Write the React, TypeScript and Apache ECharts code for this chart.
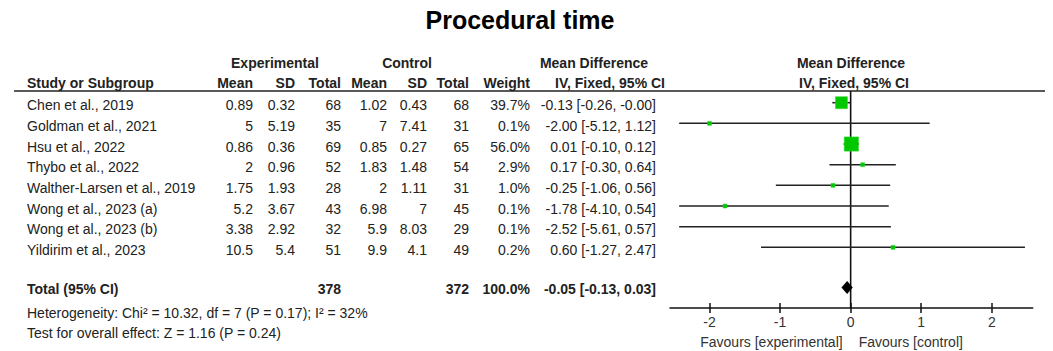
import React, { useEffect, useRef } from "react";
import * as echarts from "echarts";

// ---------------- data ----------------
const chartTitle = "Procedural time";
const studies = [
  "Chen et al., 2019",
  "Goldman et al., 2021",
  "Hsu et al., 2022",
  "Thybo et al., 2022",
  "Walther-Larsen et al., 2019",
  "Wong et al., 2023 (a)",
  "Wong et al., 2023 (b)",
  "Yildirim et al., 2023",
];
const expMean = [0.89, 5, 0.86, 2, 1.75, 5.2, 3.38, 10.5];
const expSD = [0.32, 5.19, 0.36, 0.96, 1.93, 3.67, 2.92, 5.4];
const expTotal = [68, 35, 69, 52, 28, 43, 32, 51];
const ctlMean = [1.02, 7, 0.85, 1.83, 2, 6.98, 5.9, 9.9];
const ctlSD = [0.43, 7.41, 0.27, 1.48, 1.11, 7, 8.03, 4.1];
const ctlTotal = [68, 31, 65, 54, 31, 45, 29, 49];
const weights = [39.7, 0.1, 56.0, 2.9, 1.0, 0.1, 0.1, 0.2];
const meanDiff = [-0.13, -2.0, 0.01, 0.17, -0.25, -1.78, -2.52, 0.6];
const ciLow = [-0.26, -5.12, -0.1, -0.3, -1.06, -4.1, -5.61, -1.27];
const ciHigh = [-0.0, 1.12, 0.12, 0.64, 0.56, 0.54, 0.57, 2.47];
const ciHighNegZero = [true, false, false, false, false, false, false, false];

const totalExp = 378;
const totalCtl = 372;
const totalWeight = 100.0;
const totalMD = -0.05;
const totalLow = -0.13;
const totalHigh = 0.03;
const heterogeneityText = "Heterogeneity: Chi\u00b2 = 10.32, df = 7 (P = 0.17); I\u00b2 = 32%";
const overallText = "Test for overall effect: Z = 1.16 (P = 0.24)";
const xTicks = [-2, -1, 0, 1, 2];
const nullEffect = 0;
const favoursLeft = "Favours [experimental]";
const favoursRight = "Favours [control]";

// ---------------- layout ----------------
const FONT = "'Liberation Sans', Arial, Helvetica, sans-serif";
const AX_MIN = -2.56;
const AX_MAX = 2.58;
const CLIP_MIN = -2.43;
const CLIP_MAX = 2.58;
const ROW_MIN = -0.566;
const ROW_MAX = 9.934;
const TOTAL_ROW = 8.94;
const HET_Y = 313;
const TEST_Y = 333;
const TEXT_DY = 2.5;
const COL = {
  study: 27,
  expMean: 253,
  expSD: 295,
  expTotal: 341,
  ctlMean: 387,
  ctlSD: 427,
  ctlTotal: 469,
  weight: 530,
  ci: 656,
  ciHead: 665,
};

function fmt2(v: number, negZero = false) {
  if (negZero || Object.is(v, -0)) return "-0.00";
  return v.toFixed(2);
}

export default function App() {
  const ref = useRef<HTMLDivElement>(null);
  useEffect(() => {
    document.body.style.margin = "0";
    const chart = echarts.init(ref.current!, null, { renderer: "svg" });

    const ciData = studies.map((_, i) => [
      Math.max(ciLow[i], CLIP_MIN),
      Math.min(ciHigh[i], CLIP_MAX),
      i,
    ]);
    const sqData = studies
      .map((_, i) => ({
        value: [meanDiff[i], i],
        symbolSize: Math.max(4, 12 * Math.sqrt(weights[i] / 39.7)),
      }))
      .filter((d) => d.value[0] >= CLIP_MIN && d.value[0] <= CLIP_MAX);

    chart.setOption({
      animation: false,
      grid: { left: 670, right: 20.3, top: 91, bottom: 43, containLabel: false },
      xAxis: [
        {
          type: "value",
          min: AX_MIN,
          max: AX_MAX,
          position: "bottom",
          axisLine: { show: true, onZero: false, lineStyle: { color: "#111", width: 1.5 } },
          axisTick: { show: true, customValues: xTicks, length: 5, lineStyle: { color: "#111", width: 1.5 } },
          axisLabel: { customValues: xTicks, fontSize: 14, color: "#333", fontFamily: FONT, margin: 7 },
          splitLine: { show: false },
        },
        {
          type: "value",
          min: AX_MIN,
          max: AX_MAX,
          position: "bottom",
          axisLine: { show: false, onZero: false },
          axisTick: { show: true, inside: true, customValues: xTicks, length: 5, lineStyle: { color: "#111", width: 1.5 } },
          axisLabel: { show: false },
          splitLine: { show: false },
        },
      ],
      yAxis: { type: "value", inverse: true, min: ROW_MIN, max: ROW_MAX, show: false },
      series: [
        {
          type: "custom",
          name: "zero",
          z: 1,
          dimensions: ["x", "y0", "y1"],
          encode: { x: 0, y: [1, 2] },
          data: [[nullEffect, ROW_MIN, ROW_MAX]],
          renderItem: (params: any, api: any) => {
            const p1 = api.coord([api.value(0), api.value(1)]);
            const p2 = api.coord([api.value(0), api.value(2)]);
            return {
              type: "line",
              shape: { x1: p1[0], y1: p1[1], x2: p2[0], y2: p2[1] },
              style: { stroke: "#111", lineWidth: 1.6 },
            };
          },
        },
        {
          type: "custom",
          name: "ci",
          z: 2,
          dimensions: ["lo", "hi", "row"],
          encode: { x: [0, 1], y: 2 },
          data: ciData,
          renderItem: (params: any, api: any) => {
            const p1 = api.coord([api.value(0), api.value(2)]);
            const p2 = api.coord([api.value(1), api.value(2)]);
            return {
              type: "line",
              shape: { x1: p1[0], y1: p1[1], x2: p2[0], y2: p2[1] },
              style: { stroke: "#222", lineWidth: 1.5 },
            };
          },
        },
        {
          type: "scatter",
          name: "md",
          z: 4,
          symbol: "rect",
          data: sqData,
          itemStyle: { color: "#00c800", borderColor: "#30d830", borderWidth: 0.5, opacity: 1 },
        },
        {
          type: "custom",
          name: "total",
          z: 4,
          dimensions: ["lo", "md", "hi", "row"],
          encode: { x: [0, 1, 2], y: 3 },
          data: [[totalLow, totalMD, totalHigh, TOTAL_ROW]],
          renderItem: (params: any, api: any) => {
            const row = api.value(3);
            const a = api.coord([api.value(0), row]);
            const m = api.coord([api.value(1), row]);
            const b = api.coord([api.value(2), row]);
            return {
              type: "polygon",
              shape: { points: [a, [m[0], m[1] - 6.5], b, [m[0], m[1] + 6.5]] },
              style: { fill: "#000" },
            };
          },
        },
      ],
    });

    const yPix = (r: number) => chart.convertToPixel({ yAxisIndex: 0 }, r) as unknown as number;
    const zeroX = chart.convertToPixel({ xAxisIndex: 0 }, nullEffect) as unknown as number;
    const g: any[] = [];
    const txt = (x: number, y: number, text: string, align: string, bold = false, size = 14, fill = "#222") =>
      g.push({
        type: "text",
        x,
        y,
        z: 10,
        style: {
          text,
          x: 0,
          y: 0,
          fontSize: size,
          fontFamily: FONT,
          fontWeight: bold ? "bold" : "normal",
          fill,
          align,
          verticalAlign: "middle",
        },
      });

    txt(520, 20, chartTitle, "center", true, 25, "#000");
    // headers
    txt(275, 62.5, "Experimental", "center", true, 14, "#222");
    txt(407, 62.5, "Control", "center", true, 14, "#222");
    txt(594, 62.5, "Mean Difference", "center", true, 14, "#222");
    txt(851, 62.5, "Mean Difference", "center", true, 14, "#222");
    const hY = 82.5;
    txt(COL.study, hY, "Study or Subgroup", "left", true);
    txt(COL.expMean, hY, "Mean", "right", true);
    txt(COL.expSD, hY, "SD", "right", true);
    txt(COL.expTotal, hY, "Total", "right", true);
    txt(COL.ctlMean, hY, "Mean", "right", true);
    txt(COL.ctlSD, hY, "SD", "right", true);
    txt(COL.ctlTotal, hY, "Total", "right", true);
    txt(COL.weight, hY, "Weight", "right", true);
    txt(COL.ciHead, hY, "IV, Fixed, 95% CI", "right", true);
    txt(854, hY, "IV, Fixed, 95% CI", "center", true);

    studies.forEach((s, i) => {
      const y = yPix(i) + TEXT_DY;
      txt(COL.study, y, s, "left");
      txt(COL.expMean, y, String(expMean[i]), "right");
      txt(COL.expSD, y, String(expSD[i]), "right");
      txt(COL.expTotal, y, String(expTotal[i]), "right");
      txt(COL.ctlMean, y, String(ctlMean[i]), "right");
      txt(COL.ctlSD, y, String(ctlSD[i]), "right");
      txt(COL.ctlTotal, y, String(ctlTotal[i]), "right");
      txt(COL.weight, y, weights[i].toFixed(1) + "%", "right");
      txt(
        COL.ci,
        y,
        `${fmt2(meanDiff[i])} [${fmt2(ciLow[i])}, ${fmt2(ciHigh[i], ciHighNegZero[i])}]`,
        "right"
      );
    });

    const ty = yPix(TOTAL_ROW) + 1.5;
    txt(COL.study, ty, "Total (95% CI)", "left", true);
    txt(COL.expTotal, ty, String(totalExp), "right", true);
    txt(COL.ctlTotal, ty, String(totalCtl), "right", true);
    txt(COL.weight, ty, totalWeight.toFixed(1) + "%", "right", true);
    txt(COL.ci, ty, `${fmt2(totalMD)} [${fmt2(totalLow)}, ${fmt2(totalHigh)}]`, "right", true);
    txt(COL.study, HET_Y, heterogeneityText, "left");
    txt(COL.study, TEST_Y, overallText, "left");

    txt(zeroX - 8, 341.5, favoursLeft, "right", false, 14, "#333");
    txt(zeroX + 8, 341.5, favoursRight, "left", false, 14, "#333");

    g.push({
      type: "line",
      z: 10,
      shape: { x1: 14, y1: 91, x2: 1045, y2: 91 },
      style: { stroke: "#222", lineWidth: 1.5 },
    });

    chart.setOption({ graphic: { elements: g } });

    return () => chart.dispose();
  }, []);
  return <div ref={ref} style={{ width: 1053, height: 351, overflow: "hidden" }} />;
}
